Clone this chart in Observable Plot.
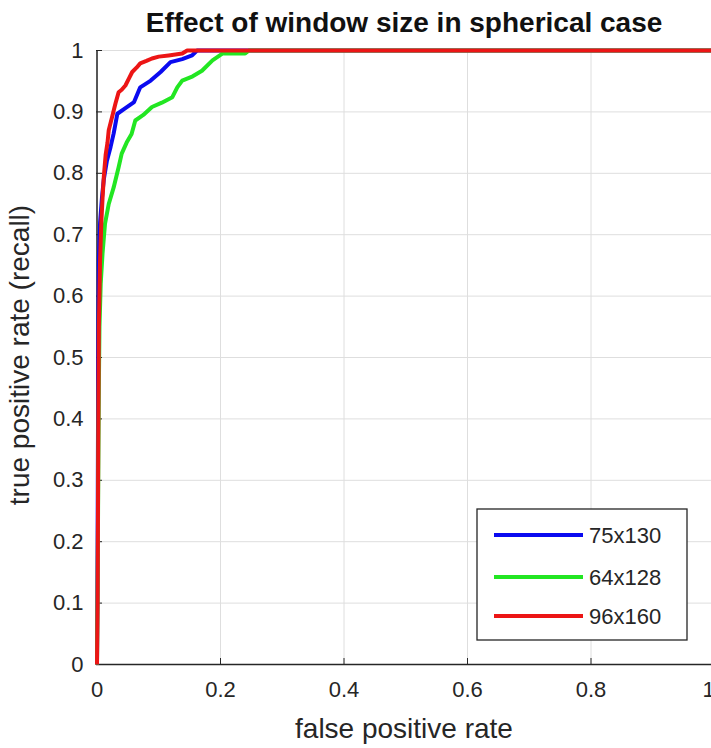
<!DOCTYPE html>
<html>
<head>
<meta charset="utf-8">
<script src="https://cdn.jsdelivr.net/npm/d3@7"></script>
<script src="https://cdn.jsdelivr.net/npm/@observablehq/plot@0.6"></script>
<style>
  html, body { margin: 0; padding: 0; background: #fff; overflow: hidden; }
  #chart svg { overflow: hidden; display: block; }
</style>
</head>
<body>
<div id="chart"></div>
<script>
// ---- data ----
const seriesNames = ["75x130", "64x128", "96x160"];
const seriesColors = ["#0a0af0", "#22e622", "#ec1515"];

const fpr75 = [0, 0.001, 0.002, 0.003, 0.005, 0.008, 0.011, 0.016, 0.022, 0.027, 0.033, 0.046, 0.06, 0.07, 0.087, 0.103, 0.119, 0.138, 0.154, 0.162, 1];
const tpr75 = [0, 0.2, 0.5, 0.66, 0.72, 0.76, 0.79, 0.82, 0.843, 0.865, 0.897, 0.906, 0.916, 0.94, 0.951, 0.965, 0.981, 0.986, 0.992, 1, 1];

const fpr64 = [0, 0.001, 0.002, 0.003, 0.004, 0.006, 0.009, 0.013, 0.019, 0.027, 0.035, 0.04, 0.048, 0.056, 0.062, 0.075, 0.089, 0.105, 0.122, 0.13, 0.138, 0.155, 0.17, 0.187, 0.203, 0.24, 0.246, 1];
const tpr64 = [0, 0.12, 0.3, 0.45, 0.55, 0.62, 0.67, 0.718, 0.75, 0.777, 0.81, 0.832, 0.85, 0.864, 0.886, 0.895, 0.908, 0.915, 0.924, 0.94, 0.951, 0.958, 0.967, 0.984, 0.995, 0.995, 1, 1];

const fpr96 = [0, 0.001, 0.002, 0.003, 0.005, 0.007, 0.009, 0.011, 0.014, 0.017, 0.019, 0.024, 0.03, 0.035, 0.04, 0.046, 0.052, 0.057, 0.064, 0.07, 0.08, 0.089, 0.1, 0.116, 0.138, 0.146, 1];
const tpr96 = [0, 0.1, 0.35, 0.55, 0.66, 0.72, 0.76, 0.794, 0.83, 0.85, 0.87, 0.89, 0.914, 0.932, 0.936, 0.943, 0.955, 0.965, 0.972, 0.979, 0.983, 0.987, 0.99, 0.992, 0.995, 1, 1];

const xTicks = [0, 0.2, 0.4, 0.6, 0.8, 1];
const xTickLabels = ["0", "0.2", "0.4", "0.6", "0.8", "1"];
const yTicks = [0, 0.1, 0.2, 0.3, 0.4, 0.5, 0.6, 0.7, 0.8, 0.9, 1];
const yTickLabels = ["0", "0.1", "0.2", "0.3", "0.4", "0.5", "0.6", "0.7", "0.8", "0.9", "1"];

const titleText = "Effect of window size in spherical case";
const xLabelText = "false positive rate";
const yLabelText = "true positive rate (recall)";

// ---- build table ----
const series = [[fpr75, tpr75], [fpr64, tpr64], [fpr96, tpr96]];
const rows = [];
series.forEach(([xs, ys], k) => xs.forEach((x, i) => rows.push({name: seriesNames[k], fpr: x, tpr: ys[i]})));

const W = 711, H = 748;
const FONT = "'Liberation Sans', Arial, Helvetica, sans-serif";
const INK = "#262626";

const plot = Plot.plot({
  width: W,
  height: H,
  marginLeft: 96,
  marginRight: 0,
  marginTop: 50,
  marginBottom: 84,
  style: {fontFamily: FONT, color: INK, background: "#fff"},
  x: {domain: [0, 1], range: [96.5, 714]},
  y: {domain: [0, 1], range: [664, 50]},
  color: {domain: seriesNames, range: seriesColors},
  marks: [
    Plot.gridX(xTicks, {stroke: "#dedede", strokeOpacity: 1, strokeWidth: 1}),
    Plot.gridY(yTicks, {stroke: "#dedede", strokeOpacity: 1, strokeWidth: 1}),
    Plot.axisX({ticks: xTicks, tickSize: -6, fill: "none", stroke: INK, label: null}),
    Plot.axisY({ticks: yTicks, tickSize: -6, fill: "none", stroke: INK, label: null}),
    Plot.ruleX([0], {stroke: INK, strokeWidth: 1.5}),
    Plot.ruleY([0], {stroke: INK, strokeWidth: 1.5}),
    Plot.line(rows, {x: "fpr", y: "tpr", z: "name", stroke: "name", strokeWidth: 4,
      strokeLinejoin: "round", strokeLinecap: "butt"}),
    Plot.axisX({ticks: xTicks, tickSize: 0, tickPadding: 17, fontSize: 22, fill: INK,
      tickFormat: (d, i) => xTickLabels[i], label: null}),
    Plot.axisY({ticks: yTicks, tickSize: 0, tickPadding: 13, fontSize: 22, fill: INK,
      tickFormat: (d, i) => yTickLabels[i], label: null})
  ]
});

document.getElementById("chart").appendChild(plot);

// ---- nudge the last x tick label ("1") so its glyph shows at the cropped right edge ----
const svg = d3.select(plot);
const xLabels = svg.selectAll("text").filter(function () {
  const g = this.parentNode;
  const al = g && g.getAttribute && g.getAttribute("aria-label");
  return al && al.indexOf("x-axis tick label") >= 0;
}).nodes();
if (xLabels.length) {
  d3.select(xLabels[xLabels.length - 1]).attr("dx", -6);
}

// ---- title, axis labels, legend (non-data text) ----
svg.append("text")
  .attr("x", 404).attr("y", 32)
  .attr("text-anchor", "middle")
  .attr("font-family", FONT).attr("font-size", 28).attr("font-weight", "bold")
  .attr("fill", "#111")
  .text(titleText);

svg.append("text")
  .attr("x", 404).attr("y", 738)
  .attr("text-anchor", "middle")
  .attr("font-family", FONT).attr("font-size", 28)
  .attr("fill", INK)
  .text(xLabelText);

svg.append("text")
  .attr("transform", "translate(29,355) rotate(-90)")
  .attr("text-anchor", "middle")
  .attr("font-family", FONT).attr("font-size", 28)
  .attr("fill", INK)
  .text(yLabelText);

const lg = svg.append("g");
lg.append("rect")
  .attr("x", 477).attr("y", 509).attr("width", 210).attr("height", 131)
  .attr("fill", "#fff").attr("stroke", INK).attr("stroke-width", 1.3);
const legendY = [535, 577, 616];
seriesNames.forEach((n, i) => {
  lg.append("line")
    .attr("x1", 494).attr("x2", 583).attr("y1", legendY[i]).attr("y2", legendY[i])
    .attr("stroke", seriesColors[i]).attr("stroke-width", 4);
  lg.append("text")
    .attr("x", 589).attr("y", legendY[i] + 8)
    .attr("text-anchor", "start")
    .attr("font-family", FONT).attr("font-size", 22)
    .attr("fill", INK)
    .text(n);
});
</script>
</body>
</html>
